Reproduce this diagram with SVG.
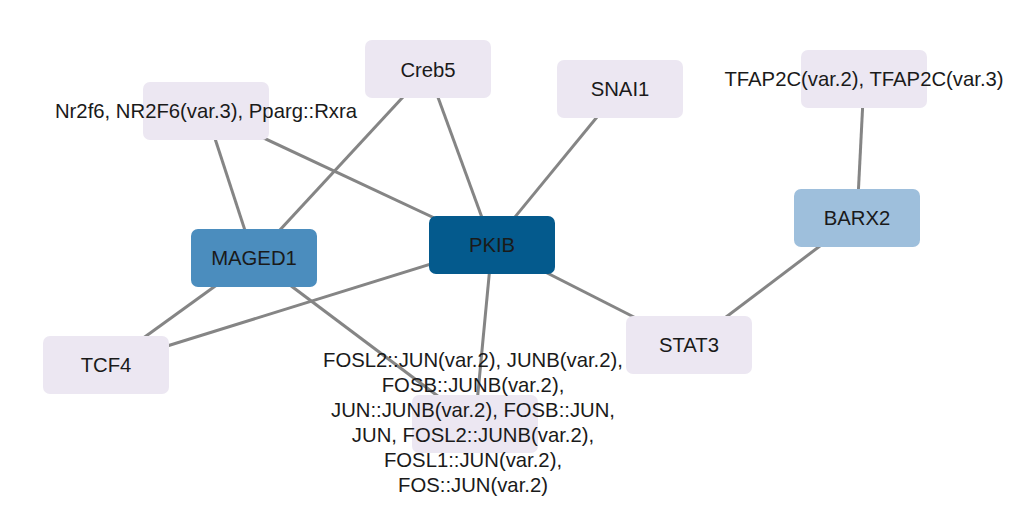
<svg xmlns="http://www.w3.org/2000/svg" width="1030" height="514" viewBox="0 0 1030 514">
<style>
.e{stroke:#858585;stroke-width:3;fill:none}
.n rect{rx:7;ry:7;width:126px;height:58px}
.l rect{fill:#ece7f2}
.t{font-family:"Liberation Sans",Arial,sans-serif;font-size:20.3px;fill:#1a1a1a;text-anchor:middle}
</style>
<rect width="1030" height="514" fill="#ffffff"/>
<g id="edges">
<line class="e" x1="206" y1="111" x2="254" y2="258"/>
<line class="e" x1="206" y1="111" x2="492" y2="245"/>
<line class="e" x1="428" y1="70" x2="254" y2="258"/>
<line class="e" x1="428" y1="70" x2="492" y2="245"/>
<line class="e" x1="620" y1="89" x2="492" y2="245"/>
<line class="e" x1="864" y1="80" x2="857" y2="218"/>
<line class="e" x1="254" y1="258" x2="106" y2="365"/>
<line class="e" x1="492" y1="245" x2="106" y2="365"/>
<line class="e" x1="254" y1="258" x2="475" y2="424"/>
<line class="e" x1="492" y1="245" x2="475" y2="424"/>
<line class="e" x1="492" y1="245" x2="689" y2="345"/>
<line class="e" x1="857" y1="218" x2="689" y2="345"/>
</g>
<g id="node-nr2f6" class="n l"><rect x="143" y="82"/><text class="t" x="206" y="118">Nr2f6, NR2F6(var.3), Pparg::Rxra</text></g>
<g id="node-creb5" class="n l"><rect x="365" y="40"/><text class="t" x="428" y="77">Creb5</text></g>
<g id="node-snai1" class="n l"><rect x="557" y="60"/><text class="t" x="620" y="96">SNAI1</text></g>
<g id="node-tfap2c" class="n l"><rect x="801" y="50"/><text class="t" x="864" y="86">TFAP2C(var.2), TFAP2C(var.3)</text></g>
<g id="node-maged1" class="n"><rect x="191" y="229" fill="#4b8dbe"/><text class="t" x="254" y="265">MAGED1</text></g>
<g id="node-pkib" class="n"><rect x="429" y="216" fill="#045a8d"/><text class="t" x="492" y="252">PKIB</text></g>
<g id="node-barx2" class="n"><rect x="794" y="189" fill="#9ebfdc"/><text class="t" x="857" y="225">BARX2</text></g>
<g id="node-tcf4" class="n l"><rect x="43" y="336"/><text class="t" x="106" y="372">TCF4</text></g>
<g id="node-stat3" class="n l"><rect x="626" y="316"/><text class="t" x="689" y="352">STAT3</text></g>
<g id="node-fos" class="n l"><rect x="412" y="395"/>
<text class="t" x="473"><tspan x="473" y="367">FOSL2::JUN(var.2), JUNB(var.2),</tspan><tspan x="473" y="392">FOSB::JUNB(var.2),</tspan><tspan x="473" y="417">JUN::JUNB(var.2), FOSB::JUN,</tspan><tspan x="473" y="442">JUN, FOSL2::JUNB(var.2),</tspan><tspan x="473" y="467">FOSL1::JUN(var.2),</tspan><tspan x="473" y="492">FOS::JUN(var.2)</tspan></text></g>
</svg>
